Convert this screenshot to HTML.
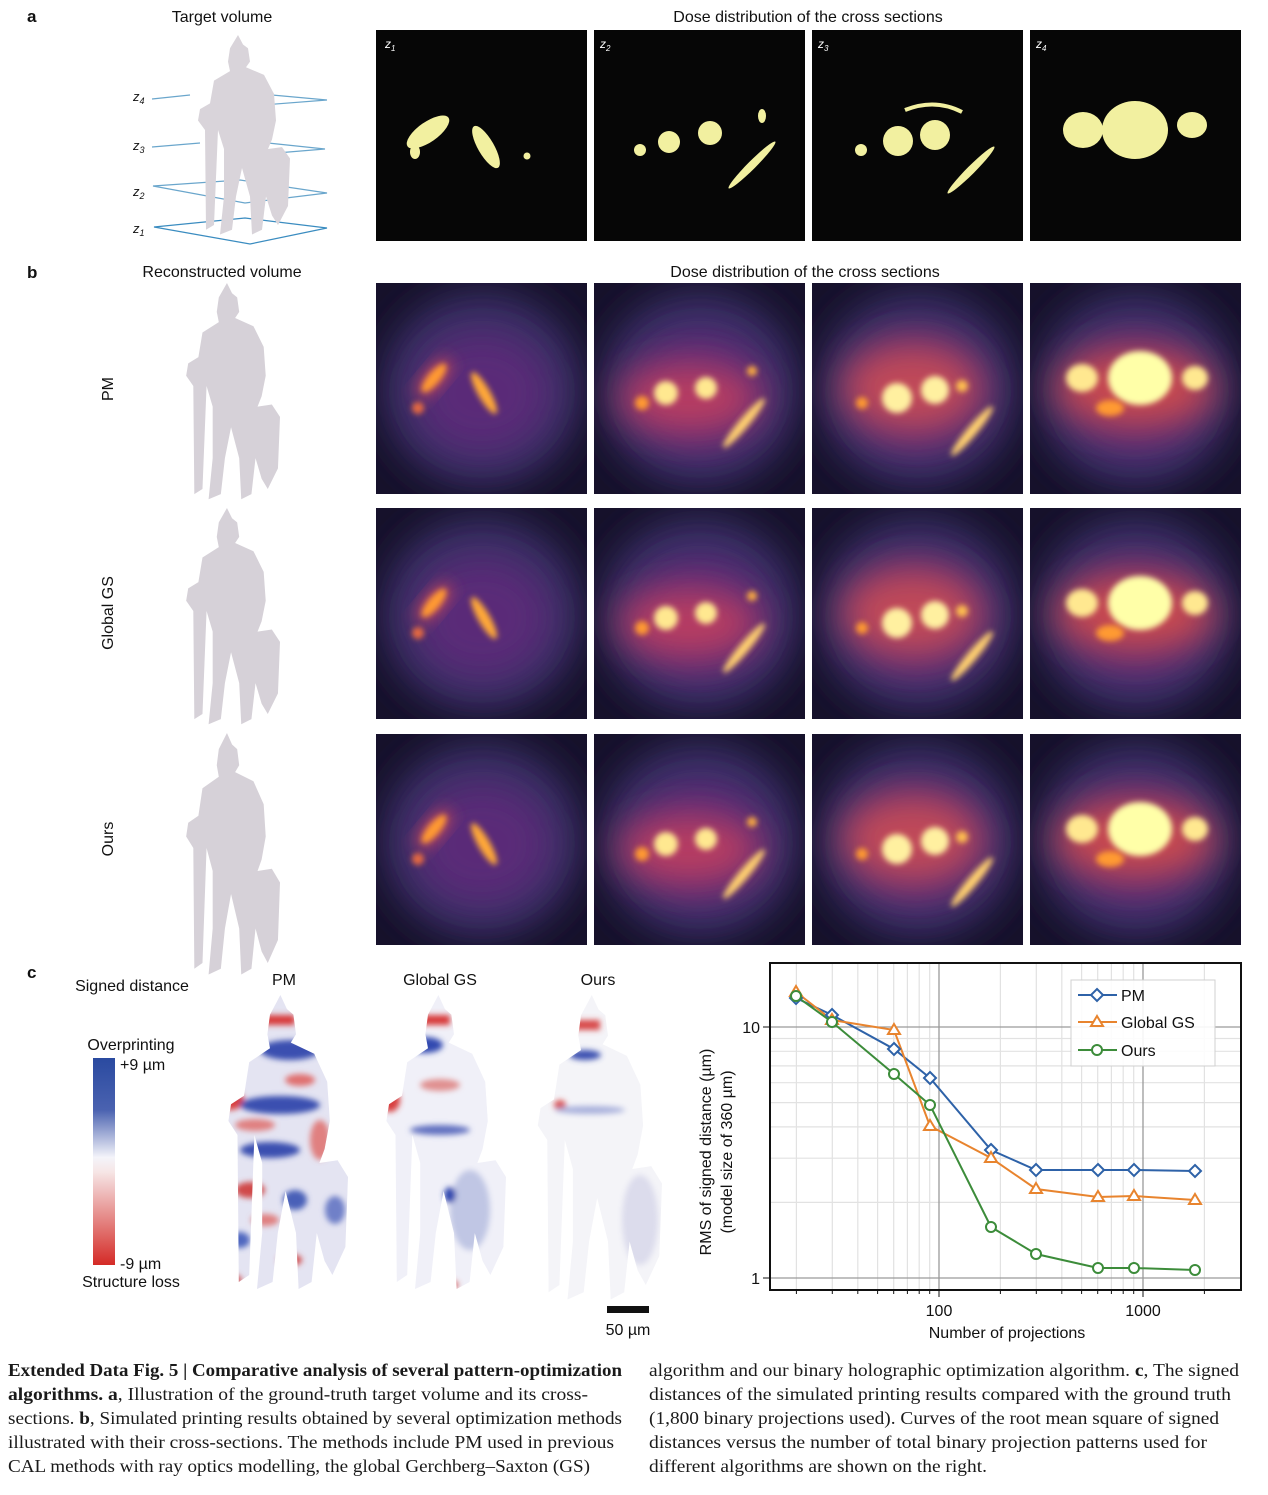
<!DOCTYPE html>
<html><head><meta charset="utf-8"><style>
html,body{margin:0;padding:0;background:#fff}
svg{display:block}
.s{font-family:"Liberation Sans",sans-serif;fill:#111}
.c{font-family:"Liberation Serif",serif;font-size:17.5px;fill:#1a1a1a}
</style></head><body>
<svg width="1268" height="1495" viewBox="0 0 1268 1495" xmlns="http://www.w3.org/2000/svg">
<defs>
<filter id="b20" x="-50%" y="-50%" width="200%" height="200%"><feGaussianBlur stdDeviation="18"/></filter>
<filter id="b8" x="-50%" y="-50%" width="200%" height="200%"><feGaussianBlur stdDeviation="8"/></filter>
<filter id="b3" x="-50%" y="-50%" width="200%" height="200%"><feGaussianBlur stdDeviation="3"/></filter>
<path id="kn" d="M48,0 L53,10 L58,14 L60,28 L56,34 L74,42 L84,62 L86,90 L82,110 L78,120 L92,118 L100,130 L98,180 L88,200 L82,190 L76,170 L72,205 L62,210 L60,170 L52,140 L46,170 L42,205 L30,210 L34,170 L34,120 L28,100 L24,200 L16,205 L15,100 L8,90 L10,78 L20,72 L24,48 L40,38 L38,28 L40,14 Z"/>
<linearGradient id="cb" x1="0" y1="0" x2="0" y2="1">
<stop offset="0" stop-color="#2a4aa0"/><stop offset="0.25" stop-color="#4a62b0"/><stop offset="0.48" stop-color="#f4f4fa"/><stop offset="0.55" stop-color="#f6e6e6"/><stop offset="1" stop-color="#d42a26"/></linearGradient>
<g id="bg">
<rect width="212" height="212" fill="#16112b"/>
<ellipse cx="106" cy="106" rx="100" ry="98" fill="#372d64" filter="url(#b20)"/>
<ellipse cx="106" cy="110" rx="70" ry="62" fill="#5a2c78" filter="url(#b20)"/>
</g>
<g id="h1">
<use href="#bg"/>
<ellipse cx="58" cy="95" rx="24" ry="9" transform="rotate(-50 58 95)" fill="#c84a5a" filter="url(#b8)"/>
<ellipse cx="58" cy="95" rx="18" ry="6" transform="rotate(-50 58 95)" fill="#ff9a30" filter="url(#b3)"/>
<ellipse cx="108" cy="110" rx="6" ry="24" transform="rotate(-30 108 110)" fill="#ffa838" filter="url(#b3)"/>
<circle cx="42" cy="125" r="6" fill="#e86a40" filter="url(#b3)"/>
</g>
<g id="h2">
<use href="#bg"/>
<ellipse cx="95" cy="115" rx="70" ry="35" fill="#b83e62" filter="url(#b20)"/>
<circle cx="72" cy="110" r="12" fill="#ffe890" filter="url(#b3)"/>
<circle cx="112" cy="105" r="11" fill="#ffe890" filter="url(#b3)"/>
<circle cx="48" cy="120" r="7" fill="#ff9a30" filter="url(#b3)"/>
<ellipse cx="150" cy="140" rx="32" ry="5" transform="rotate(-50 150 140)" fill="#ffd070" filter="url(#b3)"/>
<circle cx="158" cy="88" r="5" fill="#ffb040" filter="url(#b3)"/>
</g>
<g id="h3">
<use href="#bg"/>
<ellipse cx="100" cy="105" rx="70" ry="45" fill="#c04a58" filter="url(#b20)"/>
<circle cx="85" cy="115" r="15" fill="#fff0a0" filter="url(#b3)"/>
<circle cx="123" cy="107" r="14" fill="#fff0a0" filter="url(#b3)"/>
<circle cx="50" cy="120" r="6" fill="#ff9a30" filter="url(#b3)"/>
<circle cx="150" cy="103" r="6" fill="#ffc050" filter="url(#b3)"/>
<ellipse cx="160" cy="148" rx="32" ry="5" transform="rotate(-50 160 148)" fill="#ffd070" filter="url(#b3)"/>
</g>
<g id="h4">
<use href="#bg"/>
<ellipse cx="105" cy="105" rx="80" ry="40" fill="#c84a50" filter="url(#b20)"/>
<ellipse cx="110" cy="95" rx="32" ry="27" fill="#ffffa8" filter="url(#b3)"/>
<ellipse cx="52" cy="95" rx="16" ry="14" fill="#ffe890" filter="url(#b3)"/>
<ellipse cx="165" cy="95" rx="13" ry="12" fill="#ffe890" filter="url(#b3)"/>
<ellipse cx="80" cy="125" rx="14" ry="8" fill="#ff9a30" filter="url(#b3)"/>
</g>
</defs>

<!-- panel a -->
<text x="27" y="22" class="s" font-size="17" font-weight="bold">a</text>
<text x="222" y="22" class="s" font-size="16" text-anchor="middle">Target volume</text>
<text x="808" y="22" class="s" font-size="16" text-anchor="middle">Dose distribution of the cross sections</text>
<g stroke="#6aa6cc" stroke-width="1.2" fill="none">
<path d="M152,99 L190,95 M272,95 L327,100 L250,106"/>
<path d="M152,147 L200,143 M268,143 L325,149 L240,156"/>
<path d="M153,186 L240,180 L327,193 L245,203 Z"/>
<path d="M154,227 L245,218 L327,228 L250,244 Z" stroke="#3a8cc0"/>
</g>
<use href="#kn" transform="translate(190,35) scale(1,0.95)" fill="#d9d4da"/>
<g class="s" font-size="13" font-style="italic">
<text x="133" y="101">z<tspan font-size="9" dy="3">4</tspan></text>
<text x="133" y="150">z<tspan font-size="9" dy="3">3</tspan></text>
<text x="133" y="196">z<tspan font-size="9" dy="3">2</tspan></text>
<text x="133" y="233">z<tspan font-size="9" dy="3">1</tspan></text>
</g>
<g fill="#060606">
<rect x="376" y="30" width="211" height="211"/><rect x="594" y="30" width="211" height="211"/>
<rect x="812" y="30" width="211" height="211"/><rect x="1030" y="30" width="211" height="211"/>
</g>
<g fill="#f2f0a0">
<ellipse cx="428" cy="132" rx="25" ry="10" transform="rotate(-35 428 132)"/>
<ellipse cx="415" cy="152" rx="5" ry="7"/>
<ellipse cx="486" cy="147" rx="8" ry="24" transform="rotate(-30 486 147)"/>
<circle cx="527" cy="156" r="3.5"/>
<circle cx="640" cy="150" r="6"/><circle cx="669" cy="142" r="11"/><circle cx="710" cy="133" r="12"/>
<ellipse cx="762" cy="116" rx="4" ry="7"/>
<ellipse cx="752" cy="165" rx="33" ry="4" transform="rotate(-45 752 165)"/>
<circle cx="861" cy="150" r="6"/><circle cx="898" cy="141" r="15"/><circle cx="935" cy="135" r="15"/>
<ellipse cx="971" cy="170" rx="33" ry="4" transform="rotate(-45 971 170)"/>
<path d="M905,110 Q935,98 962,112" stroke="#f2f0a0" stroke-width="4" fill="none"/>
<ellipse cx="1135" cy="130" rx="33" ry="29"/>
<ellipse cx="1083" cy="130" rx="20" ry="18"/>
<ellipse cx="1192" cy="125" rx="15" ry="13"/>
</g>
<g class="s" font-size="12" font-style="italic">
<text x="385" y="48" fill="#fff">z<tspan font-size="8" dy="3">1</tspan></text>
<text x="600" y="48" fill="#fff">z<tspan font-size="8" dy="3">2</tspan></text>
<text x="818" y="48" fill="#fff">z<tspan font-size="8" dy="3">3</tspan></text>
<text x="1036" y="48" fill="#fff">z<tspan font-size="8" dy="3">4</tspan></text>
</g>

<!-- panel b -->
<text x="27" y="278" class="s" font-size="17" font-weight="bold">b</text>
<text x="222" y="277" class="s" font-size="16" text-anchor="middle">Reconstructed volume</text>
<text x="805" y="277" class="s" font-size="16" text-anchor="middle">Dose distribution of the cross sections</text>
<text class="s" font-size="16" transform="translate(113,389) rotate(-90)" text-anchor="middle">PM</text>
<text class="s" font-size="16" transform="translate(113,613) rotate(-90)" text-anchor="middle">Global GS</text>
<text class="s" font-size="16" transform="translate(113,839) rotate(-90)" text-anchor="middle">Ours</text>
<use href="#kn" transform="translate(178,283) scale(1.02,1.03)" fill="#d6d1d8"/>
<use href="#kn" transform="translate(178,508) scale(1.02,1.03)" fill="#d6d1d8"/>
<use href="#kn" transform="translate(178,733) scale(1.02,1.15)" fill="#d6d1d8"/>
<svg x="376" y="283" width="211" height="211"><use href="#h1"/></svg>
<svg x="594" y="283" width="211" height="211"><use href="#h2"/></svg>
<svg x="812" y="283" width="211" height="211"><use href="#h3"/></svg>
<svg x="1030" y="283" width="211" height="211"><use href="#h4"/></svg>
<svg x="376" y="508" width="211" height="211"><use href="#h1"/></svg>
<svg x="594" y="508" width="211" height="211"><use href="#h2"/></svg>
<svg x="812" y="508" width="211" height="211"><use href="#h3"/></svg>
<svg x="1030" y="508" width="211" height="211"><use href="#h4"/></svg>
<svg x="376" y="734" width="211" height="211"><use href="#h1"/></svg>
<svg x="594" y="734" width="211" height="211"><use href="#h2"/></svg>
<svg x="812" y="734" width="211" height="211"><use href="#h3"/></svg>
<svg x="1030" y="734" width="211" height="211"><use href="#h4"/></svg>

<!-- panel c -->
<text x="27" y="978" class="s" font-size="17" font-weight="bold">c</text>
<text x="132" y="991" class="s" font-size="16" text-anchor="middle">Signed distance</text>
<text x="131" y="1050" class="s" font-size="16" text-anchor="middle">Overprinting</text>
<rect x="93" y="1058" width="22" height="207" fill="url(#cb)"/>
<text x="120" y="1070" class="s" font-size="16">+9 µm</text>
<text x="120" y="1269" class="s" font-size="16">-9 µm</text>
<text x="131" y="1287" class="s" font-size="16" text-anchor="middle">Structure loss</text>
<text x="284" y="985" class="s" font-size="16" text-anchor="middle">PM</text>
<text x="440" y="985" class="s" font-size="16" text-anchor="middle">Global GS</text>
<text x="598" y="985" class="s" font-size="16" text-anchor="middle">Ours</text>
<clipPath id="k1"><use href="#kn" transform="translate(218,995) scale(1.3,1.4)"/></clipPath>
<clipPath id="k2"><use href="#kn" transform="translate(376,995) scale(1.3,1.4)"/></clipPath>
<clipPath id="k3"><use href="#kn" transform="translate(527,995) scale(1.35,1.45)"/></clipPath>
<g clip-path="url(#k1)">
<rect x="210" y="990" width="150" height="310" fill="#e4e4f2"/>
<g filter="url(#b3)">
<rect x="255" y="1015" width="40" height="10" fill="#d83a3a"/>
<ellipse cx="290" cy="1050" rx="30" ry="10" fill="#3a50b0"/>
<ellipse cx="230" cy="1100" rx="14" ry="10" fill="#d84040"/>
<ellipse cx="280" cy="1105" rx="40" ry="9" fill="#3a50b0"/>
<ellipse cx="300" cy="1080" rx="15" ry="6" fill="#e07070"/>
<ellipse cx="255" cy="1125" rx="20" ry="6" fill="#e08080"/>
<ellipse cx="270" cy="1150" rx="30" ry="8" fill="#3a50b0"/>
<ellipse cx="320" cy="1140" rx="10" ry="20" fill="#e08080"/>
<ellipse cx="250" cy="1190" rx="15" ry="8" fill="#d04848"/>
<ellipse cx="295" cy="1200" rx="12" ry="10" fill="#4a60b8"/>
<ellipse cx="265" cy="1220" rx="14" ry="6" fill="#e08080"/>
<ellipse cx="240" cy="1240" rx="10" ry="8" fill="#5068c0"/>
<ellipse cx="290" cy="1260" rx="12" ry="6" fill="#d04848"/>
<ellipse cx="335" cy="1210" rx="10" ry="14" fill="#7080c8"/>
<ellipse cx="230" cy="1280" rx="12" ry="6" fill="#d05050"/>
</g></g>
<g clip-path="url(#k2)">
<rect x="370" y="990" width="150" height="310" fill="#f0f0f8"/>
<g filter="url(#b3)">
<rect x="410" y="1015" width="40" height="10" fill="#d83a3a"/>
<ellipse cx="425" cy="1045" rx="18" ry="8" fill="#3048b0"/>
<ellipse cx="390" cy="1100" rx="10" ry="12" fill="#d84040"/>
<ellipse cx="440" cy="1085" rx="20" ry="6" fill="#e09090"/>
<ellipse cx="440" cy="1130" rx="30" ry="5" fill="#6070c0"/>
<ellipse cx="470" cy="1210" rx="20" ry="40" fill="#c0c6e4"/>
<ellipse cx="450" cy="1195" rx="6" ry="8" fill="#3048b0"/>
<ellipse cx="450" cy="1285" rx="8" ry="5" fill="#d05050"/>
</g></g>
<g clip-path="url(#k3)">
<rect x="520" y="990" width="150" height="320" fill="#f4f4f8"/>
<g filter="url(#b3)">
<rect x="565" y="1020" width="35" height="10" fill="#d84848"/>
<ellipse cx="585" cy="1055" rx="16" ry="5" fill="#3a50b0"/>
<ellipse cx="560" cy="1105" rx="6" ry="5" fill="#d85050"/>
<ellipse cx="590" cy="1110" rx="35" ry="4" fill="#a8b0dc"/>
<ellipse cx="640" cy="1220" rx="18" ry="45" fill="#dcdcec"/>
</g></g>
<rect x="607" y="1306" width="42" height="7" fill="#111"/>
<text x="628" y="1335" class="s" font-size="16" text-anchor="middle">50 µm</text>

<!-- chart -->
<g stroke="#e2e2e2" stroke-width="1.2">
<path d="M796.4,963V1290M832.3,963V1290M857.8,963V1290M877.6,963V1290M893.7,963V1290M907.4,963V1290M919.2,963V1290M929.7,963V1290M1000.4,963V1290M1036.3,963V1290M1061.8,963V1290M1081.6,963V1290M1097.7,963V1290M1111.4,963V1290M1123.2,963V1290M1133.7,963V1290M1204.4,963V1290"/>
<path d="M770,1202.4H1241M770,1158.2H1241M770,1126.9H1241M770,1102.6H1241M770,1082.7H1241M770,1065.9H1241M770,1051.3H1241M770,1038.5H1241"/>
</g>
<g stroke="#9a9a9a" stroke-width="1.3"><path d="M939,963V1290M1143,963V1290M770,1027H1241M770,1278H1241"/></g>
<rect x="770" y="963" width="471" height="327" fill="none" stroke="#111" stroke-width="2"/>
<g stroke="#111" stroke-width="1"><path d="M796.4,1290v4M832.3,1290v4M857.8,1290v4M877.6,1290v4M893.7,1290v4M907.4,1290v4M919.2,1290v4M929.7,1290v4M1000.4,1290v4M1036.3,1290v4M1061.8,1290v4M1081.6,1290v4M1097.7,1290v4M1111.4,1290v4M1123.2,1290v4M1133.7,1290v4M1204.4,1290v4M939,1290v7M1143,1290v7M770,1027h-7M770,1278h-7"/></g>
<g class="s" font-size="16">
<text x="939" y="1316" text-anchor="middle">100</text>
<text x="1143" y="1316" text-anchor="middle">1000</text>
<text x="760" y="1033" text-anchor="end">10</text>
<text x="760" y="1284" text-anchor="end">1</text>
<text x="1007" y="1338" text-anchor="middle">Number of projections</text>
<text transform="translate(711,1152) rotate(-90)" text-anchor="middle">RMS of signed distance (µm)</text>
<text transform="translate(732,1152) rotate(-90)" text-anchor="middle">(model size of 360 µm)</text>
</g>
<g fill="#fff" stroke-width="2">
<polyline fill="none" stroke="#2e62a8" points="796,998 832,1015 894,1049 930,1078 991,1150 1036,1170 1098,1170 1134,1170 1195,1171"/>
<polyline fill="none" stroke="#e8842e" points="796,992 832,1020 894,1030 930,1126 991,1158 1036,1189 1098,1197 1134,1196 1195,1200"/>
<polyline fill="none" stroke="#3c8c3a" points="796,996 832,1022 894,1074 930,1105 991,1227 1036,1254 1098,1268 1134,1268 1195,1270"/>
<g stroke="#2e62a8">
<path d="M796,992l6,6l-6,6l-6,-6z"/><path d="M832,1009l6,6l-6,6l-6,-6z"/><path d="M894,1043l6,6l-6,6l-6,-6z"/><path d="M930,1072l6,6l-6,6l-6,-6z"/><path d="M991,1144l6,6l-6,6l-6,-6z"/><path d="M1036,1164l6,6l-6,6l-6,-6z"/><path d="M1098,1164l6,6l-6,6l-6,-6z"/><path d="M1134,1164l6,6l-6,6l-6,-6z"/><path d="M1195,1165l6,6l-6,6l-6,-6z"/>
</g>
<g stroke="#e8842e">
<path d="M796,986l6,10h-12z"/><path d="M832,1014l6,10h-12z"/><path d="M894,1024l6,10h-12z"/><path d="M930,1120l6,10h-12z"/><path d="M991,1152l6,10h-12z"/><path d="M1036,1183l6,10h-12z"/><path d="M1098,1191l6,10h-12z"/><path d="M1134,1190l6,10h-12z"/><path d="M1195,1194l6,10h-12z"/>
</g>
<g stroke="#3c8c3a">
<circle cx="796" cy="996" r="5"/><circle cx="832" cy="1022" r="5"/><circle cx="894" cy="1074" r="5"/><circle cx="930" cy="1105" r="5"/><circle cx="991" cy="1227" r="5"/><circle cx="1036" cy="1254" r="5"/><circle cx="1098" cy="1268" r="5"/><circle cx="1134" cy="1268" r="5"/><circle cx="1195" cy="1270" r="5"/>
</g>
</g>
<rect x="1071" y="980" width="144" height="86" fill="#fff" fill-opacity="0.9" stroke="#d0d0d0"/>
<g stroke-width="2" fill="#fff">
<path d="M1078,995H1117" stroke="#2e62a8"/><path d="M1097,989l6,6l-6,6l-6,-6z" stroke="#2e62a8"/>
<path d="M1078,1022H1117" stroke="#e8842e"/><path d="M1097,1016l6,10h-12z" stroke="#e8842e"/>
<path d="M1078,1050H1117" stroke="#3c8c3a"/><circle cx="1097" cy="1050" r="5" stroke="#3c8c3a"/>
</g>
<g class="s" font-size="16">
<text x="1121" y="1001">PM</text><text x="1121" y="1028">Global GS</text><text x="1121" y="1056">Ours</text>
</g>

<!-- caption -->
<g class="c">
<text x="8" y="1376" textLength="614" lengthAdjust="spacingAndGlyphs" font-weight="bold">Extended Data Fig. 5 | Comparative analysis of several pattern-optimization</text>
<text x="8" y="1400" textLength="580" lengthAdjust="spacingAndGlyphs"><tspan font-weight="bold">algorithms. a</tspan>, Illustration of the ground-truth target volume and its cross-</text>
<text x="8" y="1424" textLength="614" lengthAdjust="spacingAndGlyphs">sections. <tspan font-weight="bold">b</tspan>, Simulated printing results obtained by several optimization methods</text>
<text x="8" y="1448" textLength="606" lengthAdjust="spacingAndGlyphs">illustrated with their cross-sections. The methods include PM used in previous</text>
<text x="8" y="1472" textLength="582" lengthAdjust="spacingAndGlyphs">CAL methods with ray optics modelling, the global Gerchberg–Saxton (GS)</text>
<text x="649" y="1376" textLength="590" lengthAdjust="spacingAndGlyphs">algorithm and our binary holographic optimization algorithm. <tspan font-weight="bold">c</tspan>, The signed</text>
<text x="649" y="1400" textLength="582" lengthAdjust="spacingAndGlyphs">distances of the simulated printing results compared with the ground truth</text>
<text x="649" y="1424" textLength="570" lengthAdjust="spacingAndGlyphs">(1,800 binary projections used). Curves of the root mean square of signed</text>
<text x="649" y="1448" textLength="558" lengthAdjust="spacingAndGlyphs">distances versus the number of total binary projection patterns used for</text>
<text x="649" y="1472" textLength="338" lengthAdjust="spacingAndGlyphs">different algorithms are shown on the right.</text>
</g>
</svg>
</body></html>
